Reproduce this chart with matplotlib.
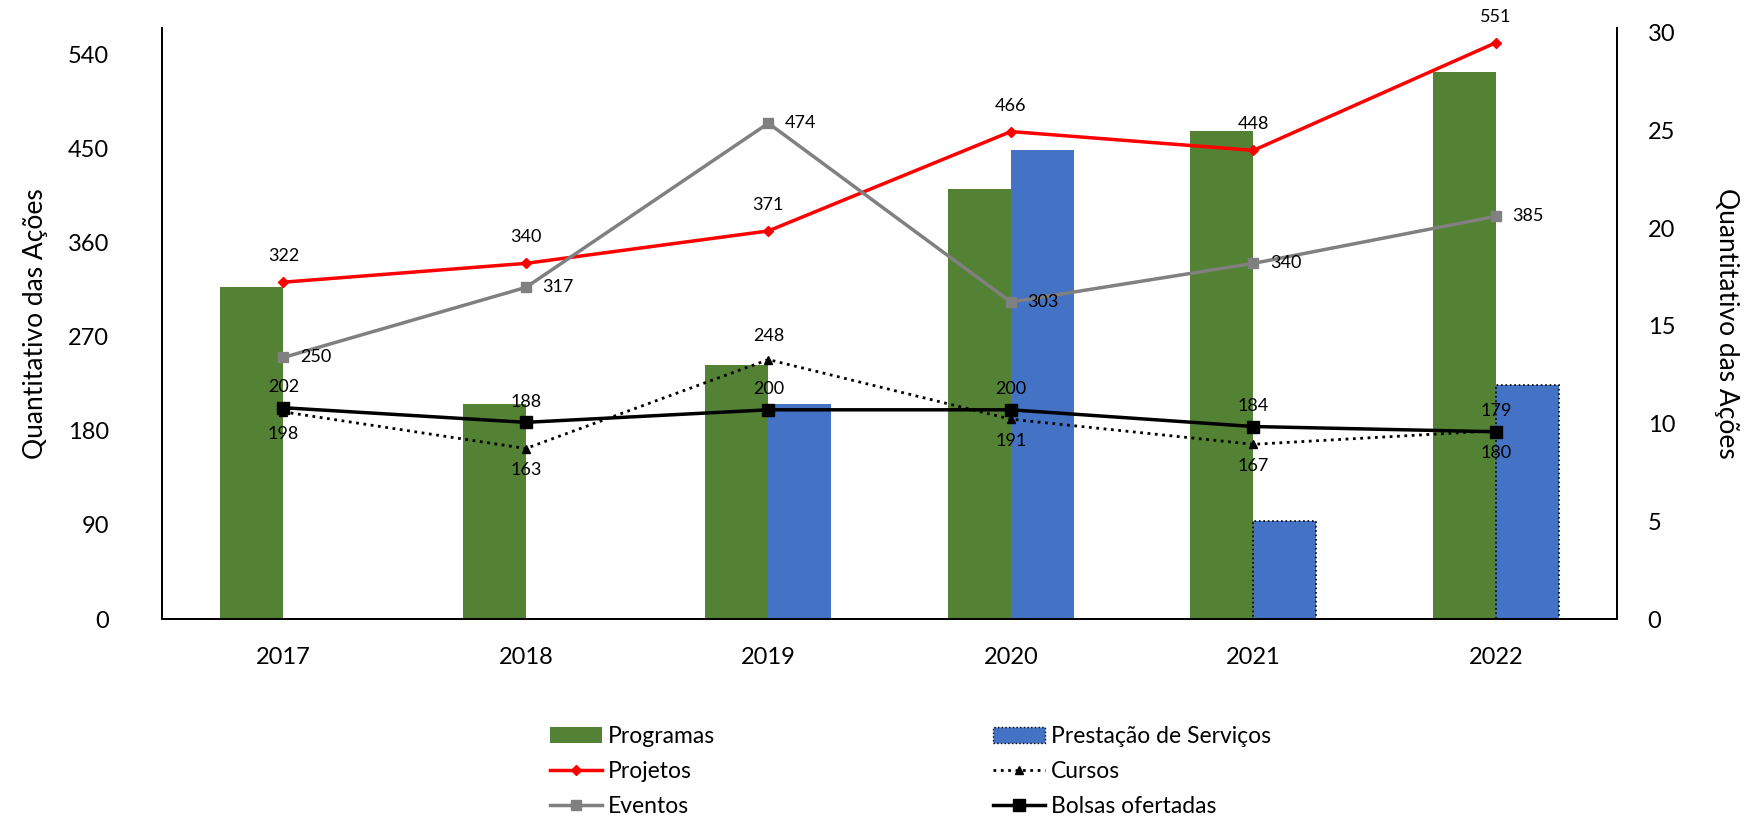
import matplotlib.pyplot as plt
import numpy as np
from matplotlib.patches import Patch
from matplotlib.lines import Line2D

plt.rcParams['font.family'] = ['Lato', 'DejaVu Sans']

anos = ['2017', '2018', '2019', '2020', '2021', '2022']

# bars (right axis)
programas = [17, 11, 13, 22, 25, 28]
prestacao = [0, 0, 11, 24, 5, 12]

# lines (left axis)
projetos = [322, 340, 371, 466, 448, 551]
eventos = [250, 317, 474, 303, 340, 385]
cursos = [198, 163, 248, 191, 167, 180]
bolsas = [202, 188, 200, 200, 184, 179]

x = np.arange(len(anos))

fig = plt.figure(figsize=(17.54, 8.26), dpi=100)
ax = fig.add_axes([0.0924, 0.2506, 0.8296, 0.7155])
ax2 = ax.twinx()

# bars on secondary axis
w = 0.26
ax2.bar(x - w / 2, programas, width=w, color='#548235', zorder=1)
bordas = ['none', 'none', 'none', 'none', 'black', 'black']
for i in range(len(anos)):
    if prestacao[i] > 0:
        ax2.bar(x[i] + w / 2, prestacao[i], width=w, color='#4472C4',
                edgecolor=bordas[i], linestyle=':', linewidth=1.2, zorder=1)
ax2.set_ylim(0, 30.25)
ax2.set_yticks(range(0, 31, 5))

# lines on primary axis, drawn above bars
ax.set_zorder(ax2.get_zorder() + 1)
ax.patch.set_visible(False)

ax.plot(x, projetos, color='red', lw=2.5, marker='D', ms=5)
ax.plot(x, eventos, color='#808080', lw=2.5, marker='s', ms=7)
ax.plot(x, cursos, color='black', lw=2, ls=':', marker='^', ms=6)
ax.plot(x, bolsas, color='black', lw=2.5, marker='s', ms=9)

fs = 13
for i in range(len(anos)):
    ax.annotate(str(projetos[i]), (x[i], projetos[i]), xytext=(0, 13),
                textcoords='offset points', ha='center', va='bottom', fontsize=fs)
    ax.annotate(str(eventos[i]), (x[i], eventos[i]), xytext=(12, 0),
                textcoords='offset points', ha='left', va='center', fontsize=fs)
    ax.annotate(str(bolsas[i]), (x[i], bolsas[i]), xytext=(0, 9),
                textcoords='offset points', ha='center', va='bottom', fontsize=fs)
    if i == 2:
        ax.annotate(str(cursos[i]), (x[i], cursos[i]), xytext=(0, 11),
                    textcoords='offset points', ha='center', va='bottom', fontsize=fs)
    else:
        ax.annotate(str(cursos[i]), (x[i], cursos[i]), xytext=(0, -10),
                    textcoords='offset points', ha='center', va='top', fontsize=fs)

ax.set_xlim(-0.5, len(anos) - 0.5)
ax.set_ylim(0, 565)
ax.set_yticks(range(0, 541, 90))
ax.set_xticks(x)
ax.set_xticklabels(anos)

for a in (ax, ax2):
    a.spines['top'].set_visible(False)
    a.tick_params(length=0, labelsize=17)
    a.spines['left'].set_linewidth(1.3)
    a.spines['right'].set_linewidth(1.3)
    a.spines['bottom'].set_linewidth(1.3)
ax.tick_params(axis='x', pad=20)
ax.tick_params(axis='y', pad=38)
ax2.tick_params(axis='y', pad=22)

ax.set_ylabel('Quantitativo das Ações', fontsize=19, labelpad=14)
ax2.set_ylabel('Quantitativo das Ações', fontsize=19, rotation=270, labelpad=46)

handles = [
    Patch(facecolor='#548235'),
    Line2D([], [], color='red', lw=2.5, marker='D', ms=5),
    Line2D([], [], color='#808080', lw=2.5, marker='s', ms=7),
    Patch(facecolor='#4472C4', edgecolor='black', linestyle=':'),
    Line2D([], [], color='black', lw=2, ls=':', marker='^', ms=6),
    Line2D([], [], color='black', lw=2.5, marker='s', ms=9),
]
labels = ['Programas', 'Projetos', 'Eventos',
          'Prestação de Serviços', 'Cursos', 'Bolsas ofertadas']
fig.legend(handles, labels, ncol=2, loc='center', bbox_to_anchor=(0.519, 0.066),
           frameon=False, fontsize=16.5, handlelength=2.3, handletextpad=0.25,
           columnspacing=12.1, labelspacing=0.62)

fig.savefig('out.png', dpi=100)
